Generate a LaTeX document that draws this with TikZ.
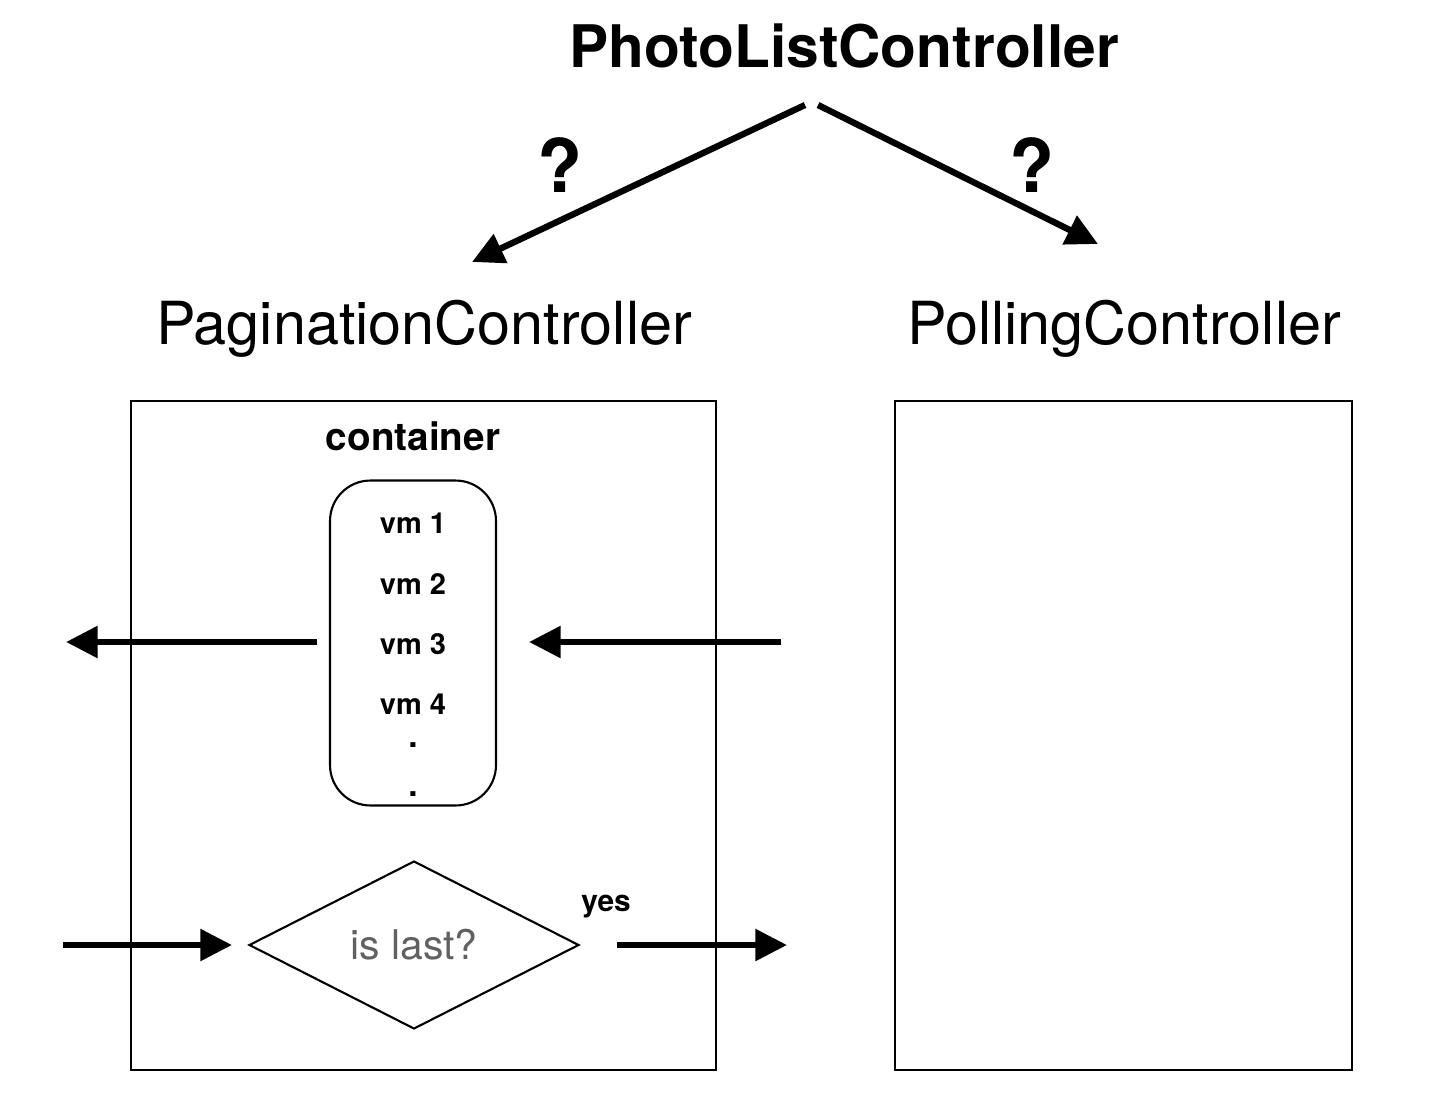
\documentclass[tikz,border=0pt]{standalone}
\usepackage{fontspec}
\setmainfont{TeX Gyre Heros}
\usetikzlibrary{arrows.meta,shapes.geometric}

\tikzset{
  flow/.style={line width=3.6pt,-{Triangle[length=18pt,width=17.5pt]}},
  frame/.style={draw,line width=1.5pt},
  title/.style={font=\fontsize{33.8}{40}\selectfont,anchor=base,inner sep=0pt},
  label/.style={font=\bfseries\fontsize{16.5}{20}\selectfont,anchor=base,inner sep=0pt}
}

\begin{document}
\begin{tikzpicture}[x=0.02cm,y=-0.02cm]
  \useasboundingbox (0,0) rectangle (1432,1112);
  % headings
  \node [title,font=\bfseries\fontsize{33.4}{40}\selectfont] (photo) at (844,67) {PhotoListController};
  \node [title] (pagination) at (424,344) {PaginationController};
  \node [title] (polling) at (1124,344) {PollingController};
  \node [label,font=\bfseries\fontsize{42}{48}\selectfont] (qleft) at (560,192) {?};
  \node [label,font=\bfseries\fontsize{42}{48}\selectfont] (qright) at (1032,192) {?};
  % top arrows
  \coordinate (photoL) at (805,105);
  \coordinate (photoR) at (818,105);
  \coordinate (pagTop) at (472,262);
  \coordinate (polTop) at (1098,244);
  \draw [flow] (photoL) -- (pagTop);
  \draw [flow] (photoR) -- (polTop);
  % controller boxes
  \draw [frame] (131,401) rectangle (716,1070);
  \draw [frame] (895,401) rectangle (1352,1070);
  \node [label,font=\bfseries\fontsize{22}{26}\selectfont] (container) at (413,450) {container};
  \node [draw,line width=1.2pt,rounded corners=23pt,minimum width=3.32cm,minimum height=6.5cm] (list) at (413,643) {};
  \node [label] (vm1) at (413,533) {vm 1};
  \node [label] (vm2) at (413,594) {vm 2};
  \node [label] (vm3) at (413,654) {vm 3};
  \node [label] (vm4) at (413,714) {vm 4};
  \node [label,font=\bfseries\fontsize{19}{20}\selectfont] (dot1) at (413,747) {.};
  \node [label,font=\bfseries\fontsize{19}{20}\selectfont] (dot2) at (413,796) {.};
  % list arrows
  \coordinate (outL) at (317,642);
  \coordinate (outTip) at (66,642);
  \coordinate (inR) at (781,642);
  \coordinate (inTip) at (529,642);
  \draw [flow] (outL) -- (outTip);
  \draw [flow] (inR) -- (inTip);
  % decision
  \node [draw,diamond,line width=1.2pt,inner sep=0pt,minimum width=6.6cm,minimum height=3.36cm,
         text=black!62,font=\fontsize{23.3}{28}\selectfont] (last) at (414,945) {is last?};
  \node [label,font=\bfseries\fontsize{17}{20}\selectfont] (yes) at (606,911) {yes};
  \coordinate (inD) at (63,945);
  \coordinate (inDTip) at (232,945);
  \coordinate (outD) at (617,945);
  \coordinate (outDTip) at (787,945);
  \draw [flow] (inD) -- (inDTip);
  \draw [flow] (outD) -- (outDTip);
\end{tikzpicture}
\end{document}
